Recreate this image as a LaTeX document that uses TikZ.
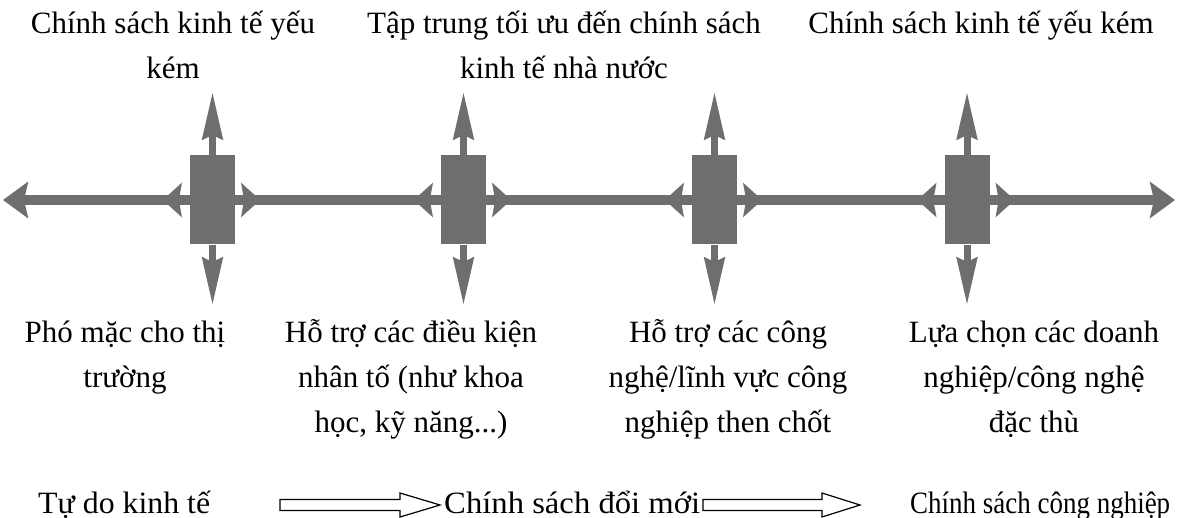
\documentclass[tikz,border=0pt]{standalone}
\usepackage{fontspec}
\usepackage{graphicx}
\setmainfont{Liberation Serif}
\usetikzlibrary{arrows.meta}
\definecolor{ag}{HTML}{6E6E70}
\newsavebox\fitbox
\newcommand\fitw[2]{\sbox\fitbox{#2}\pgfmathsetmacro\fitfac{#1/\the\wd\fitbox}\scalebox{\fitfac}[1]{\usebox\fitbox}}
\begin{document}
\begin{tikzpicture}[x=1pt,y=-1pt,
  txt/.style={font=\fontsize{31}{45}\selectfont, align=center, inner sep=0pt, anchor=north},
  btxt/.style={font=\fontsize{31}{45}\selectfont, inner sep=0pt, anchor=base west},
  hub/.style={fill=ag, draw=none, minimum width=45pt, minimum height=89pt, inner sep=0pt},
  mainline/.style={draw=ag, line width=10pt, >={Stealth[length=25pt,width=36pt,inset=4pt]}, <->},
  sidearr/.style={draw=ag, line width=10pt, -{Stealth[length=19pt,width=34pt,inset=3pt]}},
  vertarr/.style={draw=ag, line width=7pt, -{Stealth[length=47pt,width=20pt,inset=4pt]}},
  hollow/.style={draw=black, fill=white, line width=1.2pt, line join=miter}
]
\useasboundingbox[fill=white] (0,0) rectangle (1177,518);

% hubs
\foreach \i/\x in {1/212.5,2/463.5,3/714.5,4/967}{
  \node[hub] (r\i) at (\x,200) {};
  \coordinate (up\i) at (\x,92);
  \coordinate (dn\i) at (\x,305);
}
\foreach \i in {1,...,4}{
  \coordinate (sl\i) at ([xshift=-27pt]r\i.west);
  \coordinate (sr\i) at ([xshift=25pt]r\i.east);
}
\coordinate (Lend) at (3,200);
\coordinate (Rend) at (1175,200);

\draw[mainline] (Lend) -- (Rend);
\foreach \i in {1,...,4}{
  \draw[sidearr] (r\i.west) -- (sl\i);
  \draw[sidearr] (r\i.east) -- (sr\i);
  \draw[vertarr] (r\i.north) -- (up\i);
  \draw[vertarr] (r\i.south) -- (dn\i);
}
\foreach \i/\x in {1/212.5,2/463.5,3/714.5,4/967}{
  \node[hub] at (\x,200) {};
}

% top labels
\node[txt] (t1) at (173,1.5) {\strut Chính sách kinh tế yếu\\kém};
\node[txt] (t2) at (564,1.5) {\strut Tập trung tối ưu đến chính sách\\kinh tế nhà nước};
\node[txt] (t3) at (981,1.5) {\strut Chính sách kinh tế yếu kém};

% bottom labels
\node[txt] (b1) at (125,310.5) {\strut Phó mặc cho thị\\trường};
\node[txt] (b2) at (411,310.5) {\strut Hỗ trợ các điều kiện\\nhân tố (như khoa\\học, kỹ năng...)};
\node[txt] (b3) at (728,310.5) {\strut Hỗ trợ các công\\nghệ/lĩnh vực công\\nghiệp then chốt};
\node[txt] (b4) at (1034,310.5) {\strut Lựa chọn các doanh\\nghiệp/công nghệ\\đặc thù};

% bottom row
\node[btxt] (s1) at (38,513) {\fitw{172pt}{Tự do kinh tế}};
\node[btxt] (s2) at (444,513) {\fitw{256pt}{Chính sách đổi mới}};
\node[btxt] (s3) at (910,513) {\fitw{260pt}{Chính sách công nghiệp}};

\draw[hollow] (280,499.5) -- (400,499.5) -- (400,493) -- (440,505) -- (400,517) -- (400,510.5) -- (280,510.5) -- cycle;
\draw[hollow] (703,499.5) -- (822,499.5) -- (822,493) -- (860,505) -- (822,517) -- (822,510.5) -- (703,510.5) -- cycle;
\end{tikzpicture}
\end{document}
